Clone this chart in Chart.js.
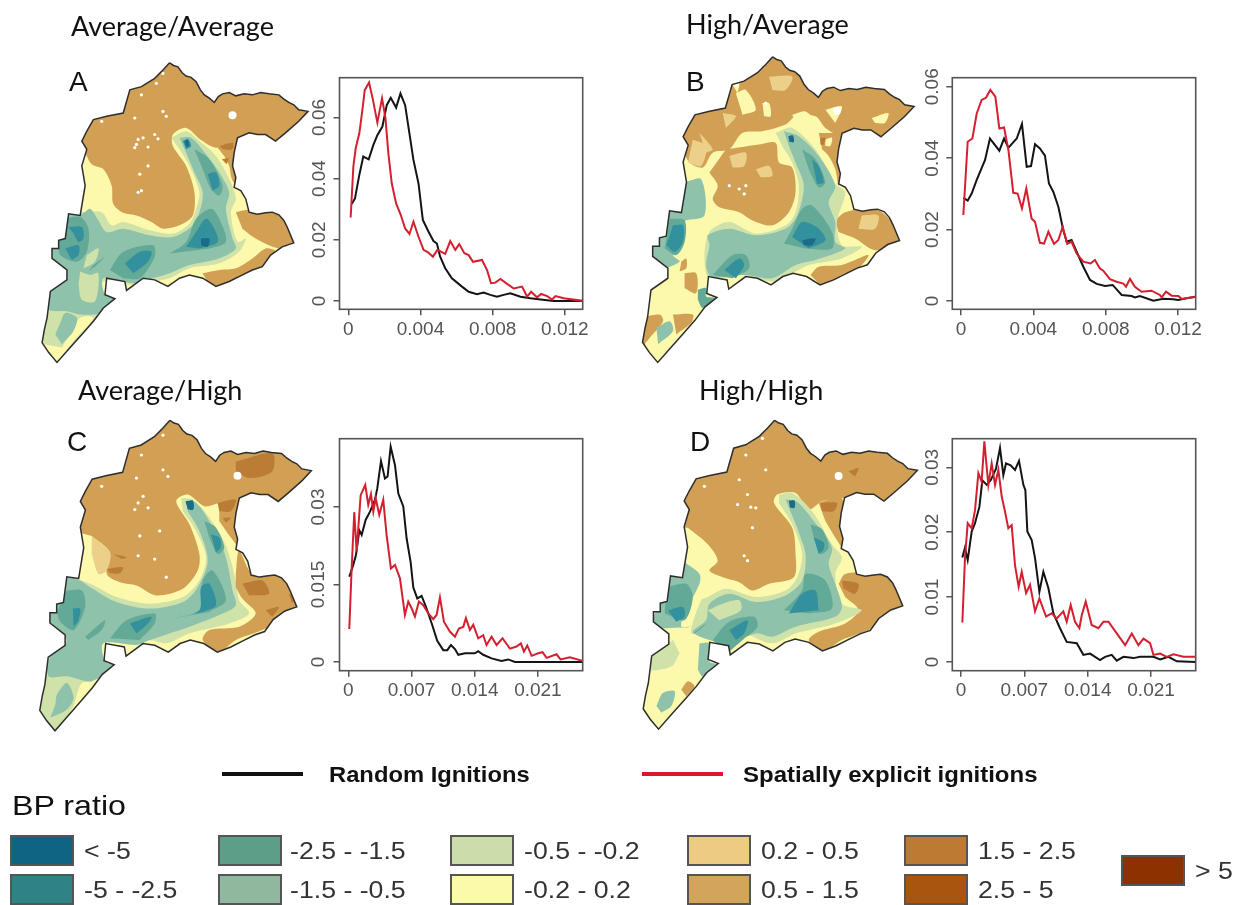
<!DOCTYPE html>
<html><head><meta charset="utf-8">
<style>
html,body{margin:0;padding:0;background:#fff;width:1241px;height:905px;overflow:hidden}
canvas{position:absolute}
#maps{filter:blur(0.7px)}
#cA,#cB,#cC,#cD{filter:blur(0.35px)}
.t{position:absolute;white-space:nowrap;line-height:1;color:#111;transform-origin:left center}
.sw{position:absolute;box-sizing:border-box;border:2px solid #555}
.ln{position:absolute;height:4px}
</style>
<script src="https://cdn.jsdelivr.net/npm/chart.js@4/dist/chart.umd.min.js"></script>
</head><body>
<canvas id="maps" width="1241" height="905" style="left:0;top:0"></canvas>
<canvas id="cA" width="310" height="300" style="left:300px;top:50px"></canvas>
<canvas id="cB" width="310" height="300" style="left:913px;top:50px"></canvas>
<canvas id="cC" width="310" height="300" style="left:300px;top:411px"></canvas>
<canvas id="cD" width="310" height="300" style="left:913px;top:411px"></canvas>
<script>
/* ---------- curves: x = burn probability, y = density ---------- */
const A_black_x=[.00019,.00037,.00061,.00083,.00113,.00139,.00161,.00189,.00213,.00235,.00265,.00289,.00315,.00333,.00361,.00389,.00413,.00444,.00472,.00491,.00509,.00537,.00574,.0063,.00667,.00713,.0075,.00787,.00824,.00861,.00898,.00954,.01009,.01065,.01139,.01306];
const A_black_y=[.0317,.0335,.0412,.0472,.0463,.0510,.0542,.0570,.0640,.0664,.0632,.0678,.0640,.0570,.0461,.0384,.0265,.0227,.0196,.0188,.0145,.0107,.0074,.0047,.0030,.0022,.0028,.0020,.0014,.0020,.0025,.0014,.0009,.0005,0,0];
const A_red_x=[.00013,.00028,.00041,.00061,.00078,.00091,.00115,.00135,.00161,.00187,.00206,.00222,.00241,.00265,.00291,.00315,.00339,.00361,.00389,.00417,.00444,.00469,.00494,.00537,.00565,.00593,.00615,.00643,.00667,.00691,.00741,.00769,.00791,.00815,.00843,.0088,.00917,.00963,.00991,.01013,.01046,.01069,.01102,.0113,.01148,.01194,.01306];
const A_red_y=[.0273,.0439,.0499,.0548,.0624,.0689,.0714,.0662,.0583,.0662,.0597,.0482,.0384,.0319,.0281,.0237,.0219,.0259,.0210,.0167,.0158,.0145,.0167,.0154,.0196,.0167,.0186,.0156,.0150,.0128,.0134,.0101,.0058,.0060,.0072,.0056,.0041,.0047,.0014,.0030,.0012,.0023,.0016,.0005,.0016,.0009,0];
const B_black_x=[.00013,.00037,.00059,.00087,.00133,.0016,.00212,.00238,.00262,.00308,.00337,.00363,.00387,.00409,.00436,.00464,.00486,.0051,.00538,.00565,.00584,.00611,.00639,.00676,.00713,.0075,.00796,.00838,.00888,.00943,.00961,.00989,.01063,.01118,.01173,.01201,.01247,.01296];
const B_black_y=[.0289,.0281,.0301,.0339,.0395,.0455,.0421,.0455,.0429,.0455,.0496,.0376,.0378,.0439,.0427,.0407,.0329,.0306,.0264,.0199,.0166,.0171,.0138,.0096,.0059,.0048,.0042,.0045,.0017,.0014,.0010,.0014,.0001,.0006,.0005,.0003,.0008,.0012];
const B_red_x=[.00013,.00037,.00063,.00087,.00114,.00138,.00162,.0019,.00212,.00238,.00262,.00289,.00313,.00337,.00361,.0039,.00409,.00436,.00459,.00483,.00514,.00538,.00562,.00587,.00611,.00639,.00676,.00716,.0074,.00768,.00786,.00823,.0086,.00897,.00912,.00934,.00961,.00998,.01053,.01099,.01109,.01133,.01164,.01201,.01219,.01296];
const B_red_y=[.0241,.0446,.0455,.0525,.0563,.0569,.0591,.0572,.0483,.0486,.0423,.0303,.0301,.0259,.0315,.0231,.0222,.0163,.0161,.0194,.0160,.0171,.0208,.0160,.0166,.0133,.0110,.0105,.0115,.0091,.0085,.0061,.0054,.0049,.0040,.0062,.0040,.0026,.0029,.0017,.0010,.0026,.0015,.0014,.0006,.0012];
const C_black_x=[.00011,.00055,.00085,.00122,.00148,.00192,.0024,.00295,.00321,.00362,.00406,.00435,.00469,.00517,.00554,.00609,.00646,.0069,.0072,.00764,.00812,.0086,.00923,.00985,.01052,.01096,.01137,.01181,.01218,.01292,.01347,.01402,.01439,.01494,.01587,.01697,.01771,.01845,.02601];
const C_black_y=[.0165,.0188,.0207,.0255,.0246,.0275,.0291,.0314,.0336,.0389,.0355,.0359,.0417,.0381,.0326,.0301,.0239,.0194,.0144,.0123,.0128,.0107,.0075,.0041,.0023,.0023,.0033,.0025,.0014,.0017,.0017,.0017,.0021,.0014,.0007,.0002,.0005,0,0];
const C_red_x=[.00011,.00037,.00066,.00092,.00137,.00188,.00221,.00251,.00277,.00303,.00343,.00387,.00424,.00472,.00517,.00572,.00627,.00664,.00701,.00738,.00782,.0083,.00886,.00941,.00978,.01015,.01059,.01125,.01181,.01225,.01273,.01303,.01347,.01384,.01439,.01494,.01531,.01587,.01642,.01708,.0179,.01863,.01911,.01945,.01982,.0203,.02103,.02151,.02196,.02306,.0235,.02454,.02601];
const C_red_y=[.0064,.0181,.0290,.0214,.0323,.0343,.0304,.0325,.0291,.0317,.0285,.0314,.0246,.0181,.0188,.0162,.0091,.0117,.0104,.0088,.0117,.0110,.0094,.0083,.0091,.0125,.0078,.0059,.0049,.0065,.0068,.0085,.0062,.0072,.0046,.0052,.0033,.0049,.0033,.0046,.0026,.0030,.0036,.0020,.0032,.0012,.0017,.0019,.0008,.0015,.0005,.0009,.0002];
const D_black_x=[.00015,.00044,.00074,.00118,.00155,.00203,.00236,.00284,.00328,.00387,.00431,.00468,.00497,.00549,.00597,.00641,.00689,.00711,.00733,.00781,.00818,.00866,.0091,.00965,.01021,.01094,.01168,.01279,.01352,.01426,.01536,.01592,.01665,.01721,.01794,.01905,.01979,.02126,.022,.02292,.02384,.02594];
const D_black_y=[.0161,.0176,.0157,.0201,.0214,.0239,.0280,.0273,.0280,.0298,.0330,.0288,.0306,.0303,.0296,.0310,.0273,.0265,.0201,.0188,.0160,.0108,.0139,.0114,.0075,.0052,.0031,.0029,.0011,.0013,.0003,.0008,.0011,.0002,.0008,.0006,.0008,.0008,.0004,.0008,.0001,0];
const D_red_x=[.00015,.00044,.00074,.00118,.00155,.00192,.00228,.00258,.00302,.00339,.00376,.00413,.0045,.00486,.00523,.0056,.00597,.00637,.00671,.00719,.00763,.00818,.00866,.0094,.01002,.01057,.01131,.01168,.01212,.0126,.01308,.01334,.01378,.01444,.01518,.01573,.01629,.01721,.01813,.01887,.0196,.02016,.02089,.02126,.022,.02273,.02347,.02458,.02594];
const D_red_y=[.0061,.0160,.0214,.0206,.0234,.0291,.0278,.0340,.0273,.0306,.0273,.0296,.0255,.0232,.0206,.0211,.0149,.0116,.0139,.0106,.0119,.0078,.0098,.0070,.0075,.0067,.0078,.0062,.0088,.0062,.0052,.0072,.0093,.0057,.0052,.0062,.0062,.0044,.0026,.0044,.0026,.0036,.0029,.0011,.0013,.0008,.0012,.0008,.0008];

const A_xticks=[0,.004,.008,.012], B_xticks=[0,.004,.008,.012], C_xticks=[0,.007,.014,.021], D_xticks=[0,.007,.014,.021];
const A_yticks=[0,.02,.04,.06], B_yticks=[0,.02,.04,.06], C_yticks=[0,.015,.03], D_yticks=[0,.01,.02,.03];

/* ---------- map geometry, in map units (3 units = 1 screen px) ---------- */
const outline=[[440,28],[452,36],[465,40],[478,58],[490,68],[505,72],[520,85],[533,110],[545,125],[560,135],[575,148],[587,130],[600,122],[620,118],[640,128],[665,122],[690,125],[715,118],[740,122],[770,125],[785,138],[800,148],[815,155],[830,170],[858,175],[830,205],[790,240],[760,265],[730,245],[705,245],[680,240],[645,255],[635,300],[630,340],[640,375],[635,405],[655,415],[670,440],[680,480],[705,486],[730,482],[750,480],[770,488],[785,505],[795,525],[815,573],[780,585],[745,610],[720,645],[690,655],[660,670],[620,690],[580,705],[540,680],[500,670],[470,680],[435,705],[395,685],[360,680],[340,695],[310,717],[305,690],[250,680],[245,730],[275,742],[240,770],[210,810],[175,850],[135,895],[100,935],[75,905],[55,875],[62,835],[70,800],[80,720],[130,685],[130,655],[85,620],[85,590],[105,590],[105,565],[125,560],[135,485],[170,490],[185,400],[175,340],[190,290],[175,265],[190,235],[210,200],[250,190],[300,180],[320,110],[355,100],[395,75],[420,50]];

const classColors={lt5:'#1a6c88',m5:'#33919e',m25:'#62a998',m15:'#8fc2ab',m05:'#cfe2a9',z:'#fcf9ac',p02:'#ecd08a',p05:'#d1a054',p15:'#bb7d35',p25:'#a85510'};

const mapA_layers=[
['m05',[[445,255],[490,235],[530,265],[580,310],[625,390],[640,440],[625,480],[645,570],[670,560],[650,600],[590,635],[500,650],[440,680],[390,690],[330,700],[240,690],[240,720],[280,745],[200,830],[140,900],[100,940],[40,880],[60,720],[110,670],[70,600],[120,470],[180,480],[235,480],[265,520],[300,510],[380,535],[450,545],[500,515],[520,470],[530,420],[500,340],[470,290]]],
['p05',[[150,300],[150,20],[900,20],[900,300],[640,270],[580,285],[535,262],[490,225],[450,245],[450,280],[490,340],[515,420],[510,490],[470,520],[420,530],[385,510],[340,490],[300,482],[270,455],[265,400],[240,350],[205,335],[185,300]]],
['p05',[[640,480],[700,470],[800,480],[830,580],[770,590],[700,560],[660,530]]],
['p05',[[540,665],[590,655],[640,650],[690,620],[730,590],[760,600],[720,660],[620,720],[570,720]]],
['p05',[[585,285],[650,250],[650,410],[628,380],[620,340],[605,310]]],
['p15',[[590,280],[630,270],[630,290],[600,290]]],
['p15',[[598,320],[618,318],[612,335]]],
['m15',[[470,255],[505,255],[550,305],[590,360],[620,420],[610,470],[630,560],[640,590],[590,620],[500,640],[440,665],[390,680],[330,695],[240,680],[245,730],[275,742],[230,785],[170,790],[130,780],[75,775],[80,720],[130,680],[70,600],[120,480],[175,485],[200,470],[225,505],[250,540],[300,530],[380,550],[450,555],[505,525],[530,480],[540,420],[515,360],[490,300]]],
['m05',[[170,660],[200,670],[225,665],[215,750],[175,745],[165,700]]],
['m05',[[190,610],[225,590],[215,630],[180,650]]],
['z',[[60,880],[100,930],[150,870],[210,800],[170,800],[115,890]]],
['m15',[[95,850],[110,815],[125,785],[160,800],[150,840],[115,880]]],
['m25',[[120,500],[170,495],[195,530],[190,600],[160,630],[110,610],[105,570]]],
['m25',[[260,655],[300,600],[390,580],[395,615],[350,680],[300,680]]],
['m25',[[440,605],[490,570],[520,500],[565,470],[590,500],[610,570],[560,590]]],
['m25',[[515,290],[560,320],[600,400],[590,430],[565,410],[540,350]]],
['m25',[[210,640],[245,615],[220,640],[195,660]]],
['m5',[[135,525],[175,525],[180,560],[165,570],[150,545]]],
['m5',[[125,590],[165,580],[165,610],[145,625]]],
['m5',[[305,635],[350,600],[385,600],[375,630],[330,665]]],
['m5',[[490,585],[520,540],[550,500],[575,530],[585,570],[530,590]]],
['m5',[[555,365],[580,360],[590,400],[570,415]]],
['m5',[[480,265],[495,258],[505,280],[490,290]]],
['lt5',[[485,265],[495,262],[498,280],[490,282]]],
['lt5',[[535,560],[560,560],[555,585],[535,580]]]
];
const mapB_layers=[
['p05',[[150,320],[150,0],[900,0],[900,160],[770,260],[640,250],[590,225],[560,190],[500,190],[470,215],[400,235],[340,240],[300,290],[250,300],[220,345],[180,330],[160,290]]],
['z',[[320,120],[350,110],[380,170],[340,185]]],
['z',[[400,150],[420,150],[425,190],[405,190]]],
['z',[[490,185],[530,175],[560,210],[510,225]]],
['z',[[730,195],[780,180],[770,210],[740,210]]],
['z',[[590,170],[640,160],[620,210]]],
['z',[[310,95],[330,90],[325,120]]],
['p02',[[190,260],[230,280],[215,340],[175,330]]],
['p02',[[420,70],[490,70],[470,110],[430,110]]],
['p02',[[280,180],[320,190],[290,225]]],
['p02',[[210,240],[250,290],[230,300]]],
['p05',[[290,290],[390,275],[440,270],[450,330],[490,345],[500,420],[480,480],[430,520],[370,505],[330,480],[270,465],[250,440],[265,400],[240,360]]],
['p02',[[300,310],[350,300],[345,340],[310,345]]],
['p02',[[380,350],[420,340],[430,370],[395,375]]],
['p05',[[570,240],[640,250],[630,400],[620,350],[600,310],[580,290]]],
['z',[[590,260],[610,255],[605,280],[590,280]]],
['p15',[[575,255],[590,255],[585,275],[575,275]]],
['p05',[[620,505],[650,480],[740,470],[790,510],[815,570],[740,595],[680,560],[630,540]]],
['p02',[[700,490],[750,490],[740,530],[690,530]]],
['p05',[[545,670],[570,645],[640,640],[720,610],[690,650],[640,670],[580,705]]],
['p05',[[155,630],[170,620],[170,650],[150,660]]],
['p05',[[165,665],[200,665],[200,725],[165,710]]],
['p05',[[30,800],[90,790],[100,810],[60,860],[35,890]]],
['p05',[[130,790],[190,790],[185,815],[140,850]]],
['m05',[[440,240],[490,225],[560,290],[620,395],[650,420],[625,510],[640,580],[700,585],[640,620],[540,640],[500,660],[440,690],[340,670],[240,680],[225,620],[240,540],[300,510],[380,545],[470,520],[500,480],[510,400],[490,330],[460,280]]],
['m15',[[465,235],[510,250],[570,310],[620,400],[600,450],[620,510],[620,570],[650,590],[560,625],[500,640],[430,680],[350,670],[245,675],[230,640],[240,580],[235,550],[300,530],[380,550],[470,530],[505,490],[525,400],[500,330],[480,280]]],
['m15',[[165,390],[215,380],[225,490],[160,510],[165,560],[130,610],[150,630],[90,650],[55,610],[85,560],[115,475],[155,475]]],
['m25',[[120,500],[165,505],[165,570],[140,610],[105,590]]],
['m25',[[250,670],[310,610],[350,610],[360,650],[310,680]]],
['m25',[[465,575],[490,530],[520,470],[550,460],[610,540],[610,590],[530,590]]],
['m25',[[520,290],[560,320],[590,390],[570,405],[540,350]]],
['m25',[[205,715],[230,710],[230,735],[255,740],[220,770],[205,745]]],
['m5',[[130,520],[160,520],[160,570],[135,600],[110,580]]],
['m5',[[285,655],[330,620],[345,640],[320,680]]],
['m5',[[490,555],[520,510],[570,530],[590,565],[540,590]]],
['m5',[[550,320],[570,340],[585,390],[565,395]]],
['lt5',[[478,250],[492,248],[495,268],[482,268]]],
['lt5',[[520,565],[560,560],[550,580],[525,580]]],
['m15',[[80,830],[120,810],[130,840],[85,880]]]
];
const mapC_layers=[
['m05',[[475,250],[510,255],[560,310],[610,395],[640,500],[650,560],[680,600],[620,630],[500,660],[430,690],[380,680],[350,690],[240,690],[240,760],[280,760],[200,810],[150,880],[100,960],[40,900],[60,790],[70,730],[130,670],[60,630],[80,600],[120,490],[200,510],[280,550],[380,570],[480,550],[530,500],[550,430],[520,350],[480,290]]],
['p05',[[150,350],[150,0],[900,0],[900,180],[780,270],[650,255],[590,265],[545,275],[495,240],[460,260],[500,330],[530,420],[525,470],[480,525],[400,545],[340,515],[290,505],[250,480],[260,415],[205,365]]],
['p02',[[205,365],[260,415],[250,470],[225,480],[205,420]]],
['p05',[[590,265],[650,250],[670,420],[625,370],[590,320]]],
['p15',[[585,265],[640,255],[625,290],[590,290]]],
['p15',[[600,310],[625,310],[610,325]]],
['p15',[[640,140],[750,115],[750,170],[680,190],[640,170]]],
['p15',[[270,420],[310,430],[295,435]]],
['p15',[[250,465],[300,460],[290,478],[260,478]]],
['p05',[[640,480],[650,410],[690,480],[770,480],[840,580],[720,650],[640,680],[590,715],[540,680],[560,650],[650,640],[700,600],[660,555],[640,520]]],
['p15',[[660,510],[720,500],[740,540],[680,545]]],
['p15',[[730,590],[770,580],[750,610]]],
['p15',[[800,540],[820,550],[810,570]]],
['m15',[[490,260],[520,265],[560,320],[600,400],[615,450],[630,530],[640,575],[600,600],[500,640],[440,660],[380,680],[340,695],[240,690],[245,745],[275,760],[205,805],[170,800],[130,790],[75,790],[80,730],[130,680],[60,630],[120,490],[160,495],[200,520],[280,565],[380,585],[480,565],[525,520],[555,440],[530,350],[495,290]]],
['m25',[[130,530],[175,530],[185,580],[150,650],[110,625],[100,595]]],
['m25',[[185,670],[245,620],[235,650],[195,680]]],
['m25',[[260,675],[310,620],[395,600],[395,630],[350,680]]],
['m25',[[450,615],[530,590],[540,500],[570,470],[610,560],[560,595]]],
['m25',[[545,320],[580,340],[605,400],[585,420],[560,370]]],
['m5',[[148,585],[170,585],[165,620],[150,640]]],
['m5',[[320,630],[385,610],[375,630],[340,660]]],
['m5',[[465,605],[530,590],[535,520],[560,510],[580,575],[540,595]]],
['m5',[[565,360],[590,370],[595,400],[580,415]]],
['lt5',[[488,260],[510,258],[512,285],[495,285]]],
['m15',[[95,875],[100,845],[130,810],[150,855],[130,890],[80,915]]],
['z',[[160,845],[175,810],[205,810],[150,880]]]
];
const mapD_layers=[
['p05',[[150,340],[150,0],[900,0],[900,170],[770,265],[640,250],[580,260],[540,285],[500,235],[445,240],[435,265],[490,340],[500,420],[495,490],[420,510],[370,530],[330,505],[280,490],[240,470],[265,440],[235,390],[175,340]]],
['p05',[[570,265],[640,250],[650,410],[620,370],[590,320]]],
['p15',[[575,265],[625,265],[615,290],[580,290]]],
['p15',[[660,170],[690,160],[680,185]]],
['p05',[[630,510],[650,480],[730,475],[790,490],[830,585],[720,650],[640,680],[580,715],[540,680],[570,655],[650,630],[690,590],[650,550]]],
['p15',[[640,500],[690,510],[680,540],[645,525]]],
['p05',[[155,830],[175,805],[195,820],[170,850]]],
['m05',[[450,240],[490,235],[550,290],[610,390],[640,430],[620,480],[640,570],[700,590],[620,630],[500,660],[430,690],[340,660],[240,680],[235,640],[185,660],[215,560],[235,550],[290,525],[380,550],[470,530],[505,490],[520,420],[490,330],[450,265]]],
['m15',[[165,445],[210,480],[210,510],[165,600],[155,640],[185,640],[60,640],[80,590],[120,480]]],
['m15',[[470,255],[505,262],[555,320],[610,400],[600,450],[620,510],[640,580],[620,610],[500,640],[430,670],[380,660],[300,690],[240,680],[190,655],[230,620],[240,570],[300,540],[380,565],[470,545],[520,500],[530,420],[505,340]]],
['m05',[[235,590],[280,570],[330,560],[335,590],[270,620]]],
['m05',[[130,680],[60,730],[50,770],[125,760],[150,720]]],
['m15',[[210,690],[240,690],[240,745],[265,755],[220,790],[205,770]]],
['m25',[[110,520],[170,510],[190,550],[165,620],[105,600]]],
['m25',[[190,660],[230,630],[215,645],[195,660]]],
['m25',[[250,680],[300,625],[375,610],[385,640],[340,680],[295,720]]],
['m25',[[465,590],[520,530],[530,480],[590,500],[610,585],[540,600]]],
['m25',[[545,330],[580,345],[600,400],[575,420],[555,370]]],
['m5',[[115,590],[160,580],[165,610],[140,625]]],
['m5',[[300,650],[355,620],[345,660],[320,680]]],
['m5',[[480,600],[520,540],[560,530],[570,590]]],
['m5',[[555,370],[585,385],[585,405],[570,420]]],
['lt5',[[480,258],[497,258],[497,280],[483,280]]],
['m15',[[80,880],[100,840],[135,835],[125,880],[95,900]]]
];
const holesA=[[335,195],[375,283],[420,175],[430,190],[345,260],[335,285],[350,365],[345,420],[420,60],[355,125],[400,90],[235,205],[375,340],[360,255],[405,258],[340,275],[355,415],[395,245]];
const holesB=[[410,150],[330,410],[350,400],[320,95],[345,425],[300,400]];
const holesC=[[340,190],[375,280],[420,165],[435,185],[345,265],[335,285],[350,365],[345,425],[420,60],[355,120],[395,435],[360,245],[410,350],[430,490],[235,215]];
const holesD=[[330,195],[365,278],[410,165],[325,270],[345,425],[355,440],[400,70],[350,120],[370,340],[355,240],[380,280],[225,215]];
const bigHole={A:[630,187],B:[625,173],C:[645,183],D:[630,184]};

/* where each map's unit grid sits, and the outline extent of each panel */
const mapPanels=[
 {key:'A',ox:20,oy:50,bx:[55,858],by:[28,935],layers:mapA_layers,holes:holesA},
 {key:'B',ox:630,oy:50,bx:[38,858],by:[10,935],layers:mapB_layers,holes:holesB},
 {key:'C',ox:20,oy:415,bx:[48,868],by:[15,955],layers:mapC_layers,holes:holesC},
 {key:'D',ox:630,oy:415,bx:[40,868],by:[15,950],layers:mapD_layers,holes:holesD}
];

/* ---------- backdrop chart holding the four maps ---------- */
const ds=[];
function addPoly(pts,color,tension){ds.push({data:pts,fill:'shape',backgroundColor:color,borderWidth:0,pointRadius:0,tension:tension,borderColor:'transparent'});}
mapPanels.forEach(p=>{
  const place=q=>({x:p.ox+q[0]/3,y:p.oy+q[1]/3});
  const out=outline.map(q=>{
    const ux=p.bx[0]+(q[0]-55)*(p.bx[1]-p.bx[0])/803;
    const uy=p.by[0]+(q[1]-28)*(p.by[1]-p.by[0])/907;
    return place([ux,uy]);
  });
  addPoly(out,classColors.z,0);
  p.layers.forEach(l=>addPoly(l[1].map(place),classColors[l[0]],0.3));
  ds.push({data:p.holes.map(place),showLine:false,pointRadius:1.6,pointBackgroundColor:'#fff',pointBorderWidth:0});
  ds.push({data:[place(bigHole[p.key])],showLine:false,pointRadius:4,pointBackgroundColor:'#fff',pointBorderWidth:0});
  // white mask round the silhouette
  const x0=p.ox-20,x1=p.ox+340,y0=p.oy-45,y1=p.oy+340;
  addPoly([{x:x0,y:y0},{x:x0,y:y1},{x:x1,y:y1},{x:x1,y:y0},{x:x0,y:y0},...out,out[0]],'#fff',0);
  ds.push({data:[...out,out[0]],borderColor:'#2e2e2e',borderWidth:1.5,pointRadius:0,tension:0,fill:false});
});
ds.forEach((d,i)=>d.order=-i);
new Chart(document.getElementById('maps'),{type:'line',data:{datasets:ds},options:{
  responsive:false,animation:false,events:[],
  layout:{padding:0},
  plugins:{legend:{display:false},tooltip:{enabled:false}},
  scales:{x:{type:'linear',display:false,min:0,max:1241},y:{type:'linear',display:false,min:0,max:905,reverse:true}}
}});

/* ---------- density panels ---------- */
const boxPlugin={id:'box',afterDatasetsDraw(c){const a=c.chartArea,x=c.ctx;x.save();x.strokeStyle='#555';x.lineWidth=1.6;x.strokeRect(a.left,a.top,a.right-a.left,a.bottom-a.top);x.restore();}};
function zip(xs,ys){return xs.map((v,i)=>({x:v,y:ys[i]}));}
function density(id,cfg){
  new Chart(document.getElementById(id),{type:'line',plugins:[boxPlugin],
   data:{datasets:[
    {label:'Spatially explicit ignitions',data:zip(cfg.rx,cfg.ry),borderColor:'#d4202e',borderWidth:2,pointRadius:0,tension:0,fill:false},
    {label:'Random Ignitions',data:zip(cfg.bx,cfg.by),borderColor:'#141414',borderWidth:2,pointRadius:0,tension:0,fill:false}
   ]},
   options:{responsive:false,animation:false,events:[],
    layout:{padding:{top:cfg.top,right:cfg.right,left:0,bottom:0}},
    plugins:{legend:{display:false},tooltip:{enabled:false}},
    scales:{
     x:{type:'linear',min:cfg.xmin,max:cfg.xmax,border:{display:false},
        grid:{display:true,drawOnChartArea:false,drawTicks:true,tickLength:6,color:'#555',lineWidth:1.5},
        afterBuildTicks:s=>{s.ticks=cfg.xt.map(v=>({value:v}));},
        afterFit:s=>{s.height=cfg.xh;},
        ticks:{autoSkip:false,maxRotation:0,minRotation:0,padding:3,color:'#555',font:{family:'"Liberation Sans"',size:19},callback:v=>String(v)}},
     y:{type:'linear',min:cfg.ymin,max:cfg.ymax,border:{display:false},
        grid:{display:true,drawOnChartArea:false,drawTicks:true,tickLength:6,color:'#555',lineWidth:1.5},
        afterBuildTicks:s=>{s.ticks=cfg.yt.map(v=>({value:v}));},
        afterFit:s=>{s.width=cfg.yw;},
        ticks:{autoSkip:false,minRotation:90,maxRotation:90,crossAlign:'center',padding:cfg.pad,color:'#555',font:{family:'"Liberation Sans"',size:19},callback:v=>String(v)}}
    }}
  });
}
density('cA',{rx:A_red_x,ry:A_red_y,bx:A_black_x,by:A_black_y,xt:A_xticks,yt:A_yticks,xmin:-.000488,xmax:.01299,ymin:-.00271,ymax:.07297,top:27.7,right:27.3,xh:40.7,yw:39.5,pad:-5});
density('cB',{rx:B_red_x,ry:B_red_y,bx:B_black_x,by:B_black_y,xt:B_xticks,yt:B_yticks,xmin:-.00048,xmax:.01297,ymin:-.00232,ymax:.06253,top:27.7,right:27.3,xh:40.7,yw:39.3,pad:-5});
density('cC',{rx:C_red_x,ry:C_red_y,bx:C_black_x,by:C_black_y,xt:C_xticks,yt:C_yticks,xmin:-.000975,xmax:.02596,ymin:-.00168,ymax:.04322,top:27.7,right:27.3,xh:40.3,yw:39.5,pad:-9.5});
density('cD',{rx:D_red_x,ry:D_red_y,bx:D_black_x,by:D_black_y,xt:D_xticks,yt:D_yticks,xmin:-.00096,xmax:.02593,ymin:-.00134,ymax:.03441,top:27.7,right:27.3,xh:40.3,yw:39.3,pad:-5});

/* ---------- text and legends ---------- */
const panelTitles=[['Average/Average',71,22],['High/Average',686,20],['Average/High',78,386],['High/High',699,386]];
const panelLetters=[['A',69,80],['B',686,80],['C',67,440],['D',690,440]];
const legendLabels=['< -5','-5 - -2.5','-2.5 - -1.5','-1.5 - -0.5','-0.5 - -0.2','-0.2 - 0.2','0.2 - 0.5','0.5 - 1.5','1.5 - 2.5','2.5 - 5','> 5'];
const legendColors=['#0f6484','#2f8387','#5d9e88','#90b89e','#cbdda8','#fbfaa9','#eccc83','#d3a45c','#bd7a33','#a9540f','#8b3200'];
const legendSpots=[[10,835,84],[10,874,84],[218,835,290],[218,874,290],[450,835,524],[450,874,524],[687,835,761],[687,874,761],[904,835,978],[904,874,978],[1121,855,1195]];
function text(s,x,cy,css){const d=document.createElement('div');d.className='t';d.textContent=s;d.style.cssText+=`left:${x}px;top:${cy}px;margin-top:-0.5em;`+css;document.body.appendChild(d);}
panelTitles.forEach(t=>text(t[0],t[1],t[2],'font:27px Lato;'));
panelLetters.forEach(t=>text(t[0],t[1],t[2],'font:28px "Liberation Sans";'));
text('Random Ignitions',329,773,'font:bold 22px "Liberation Sans";transform:scaleX(1.08);');
text('Spatially explicit ignitions',743,773,'font:bold 22px "Liberation Sans";transform:scaleX(1.09);');
text('BP ratio',12,804,'font:28px "Liberation Sans";transform:scaleX(1.15);');
legendLabels.forEach((s,i)=>{
  const p=legendSpots[i];
  const b=document.createElement('div');b.className='sw';
  b.style.cssText=`left:${p[0]}px;top:${p[1]}px;width:64px;height:31px;background:${legendColors[i]}`;
  document.body.appendChild(b);
  text(s,p[2],p[1]+14,'font:23px "Liberation Sans";color:#333;transform:scaleX(1.16);');
});
[[222,81,'#111'],[642,81,'#e0152a']].forEach(l=>{const d=document.createElement('div');d.className='ln';d.style.cssText=`left:${l[0]}px;top:772px;width:${l[1]}px;background:${l[2]}`;document.body.appendChild(d);});
</script>
</body></html>
